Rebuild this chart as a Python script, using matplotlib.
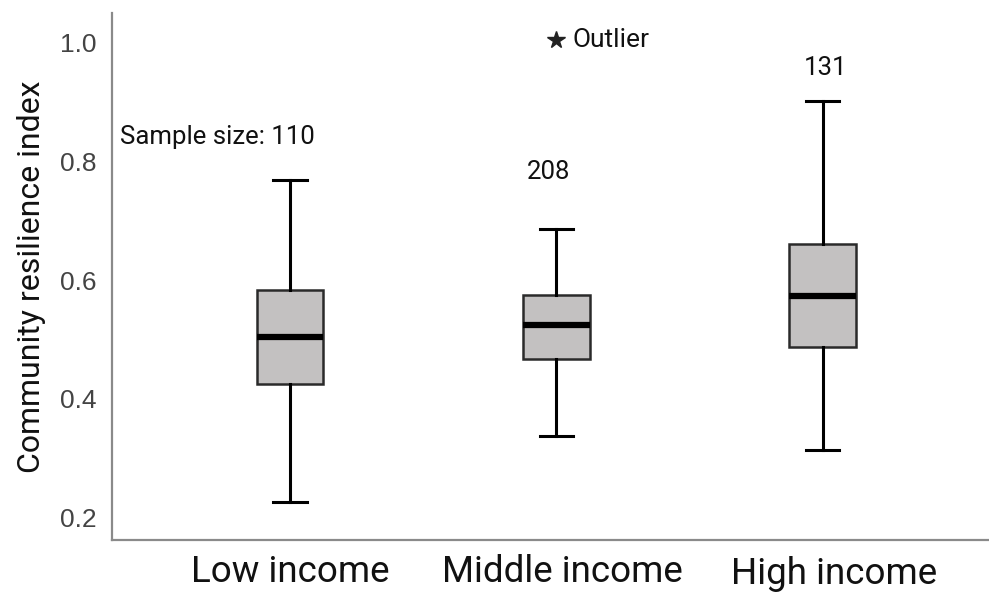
import matplotlib.pyplot as plt
from matplotlib.transforms import ScaledTranslation

plt.rcParams['font.family'] = ['Roboto', 'DejaVu Sans']

# income groups and the box statistics of the resilience index
groups = ['Low income', 'Middle income', 'High income']
sample_sizes = [110, 208, 131]
whisker_low = [0.227, 0.337, 0.315]
q1 = [0.426, 0.468, 0.488]
median = [0.505, 0.525, 0.573]
q3 = [0.583, 0.575, 0.660]
whisker_high = [0.769, 0.685, 0.901]
outliers = [[], [1.003], []]

stats = []
for i, g in enumerate(groups):
    stats.append({
        'label': g,
        'whislo': whisker_low[i],
        'q1': q1[i],
        'med': median[i],
        'q3': q3[i],
        'whishi': whisker_high[i],
        'fliers': [],
    })

fig = plt.figure(figsize=(9.89, 5.92), dpi=100)
ax = fig.add_axes([0.113, 0.088, 0.887, 0.89])

positions = [1, 2, 3]
ax.bxp(stats, positions=positions, widths=0.25, patch_artist=True,
       showfliers=False,
       boxprops=dict(facecolor='#c3c1c1', edgecolor='#2a2a2a', linewidth=1.8),
       medianprops=dict(color='black', linewidth=4.5, solid_capstyle='butt'),
       whiskerprops=dict(color='black', linewidth=2.2),
       capprops=dict(color='black', linewidth=2.2),
       capwidths=0.125)

# outlier marks
for pos, vals in zip(positions, outliers):
    for v in vals:
        ax.plot(pos, v, marker='*', color='#222222', markersize=13,
                linestyle='none')
ax.text(2.062, 1.003, 'Outlier', fontsize=19, va='center', ha='left',
        color='#111111')

# sample size annotations
ax.text(0.361, 0.84, f'Sample size: {sample_sizes[0]}', fontsize=18.5,
        ha='left', va='center', color='#111111')
ax.text(1.97, 0.781, str(sample_sizes[1]), fontsize=18.5, ha='center',
        va='center', color='#111111')
ax.text(3.01, 0.957, str(sample_sizes[2]), fontsize=18.5, ha='center',
        va='center', color='#111111')

ax.set_xlim(0.331, 3.624)
ax.set_ylim(0.163, 1.049)
ax.set_yticks([0.2, 0.4, 0.6, 0.8, 1.0])
ax.set_yticklabels(['0.2', '0.4', '0.6', '0.8', '1.0'], fontsize=19,
                   color='#444444', family='Liberation Sans')
ax.set_xticks(positions)
ax.set_xticklabels(groups, fontsize=26.5, color='#111111')
ax.tick_params(axis='both', length=0)
ax.tick_params(axis='y', pad=11)
ax.tick_params(axis='x', pad=10)
ax.set_ylabel('Community resilience index', fontsize=23, labelpad=10,
              color='#111111')

# nudge the two right-hand group labels slightly
for lab, (dx, dy) in zip(ax.get_xticklabels(), [(0, 0), (6, 0), (11, -2)]):
    lab.set_transform(lab.get_transform()
                      + ScaledTranslation(dx / 100, dy / 100, fig.dpi_scale_trans))

for side in ['top', 'right']:
    ax.spines[side].set_visible(False)
for side in ['left', 'bottom']:
    ax.spines[side].set_color('#8a8a8a')
    ax.spines[side].set_linewidth(1.6)

fig.savefig('out.png', dpi=100)
